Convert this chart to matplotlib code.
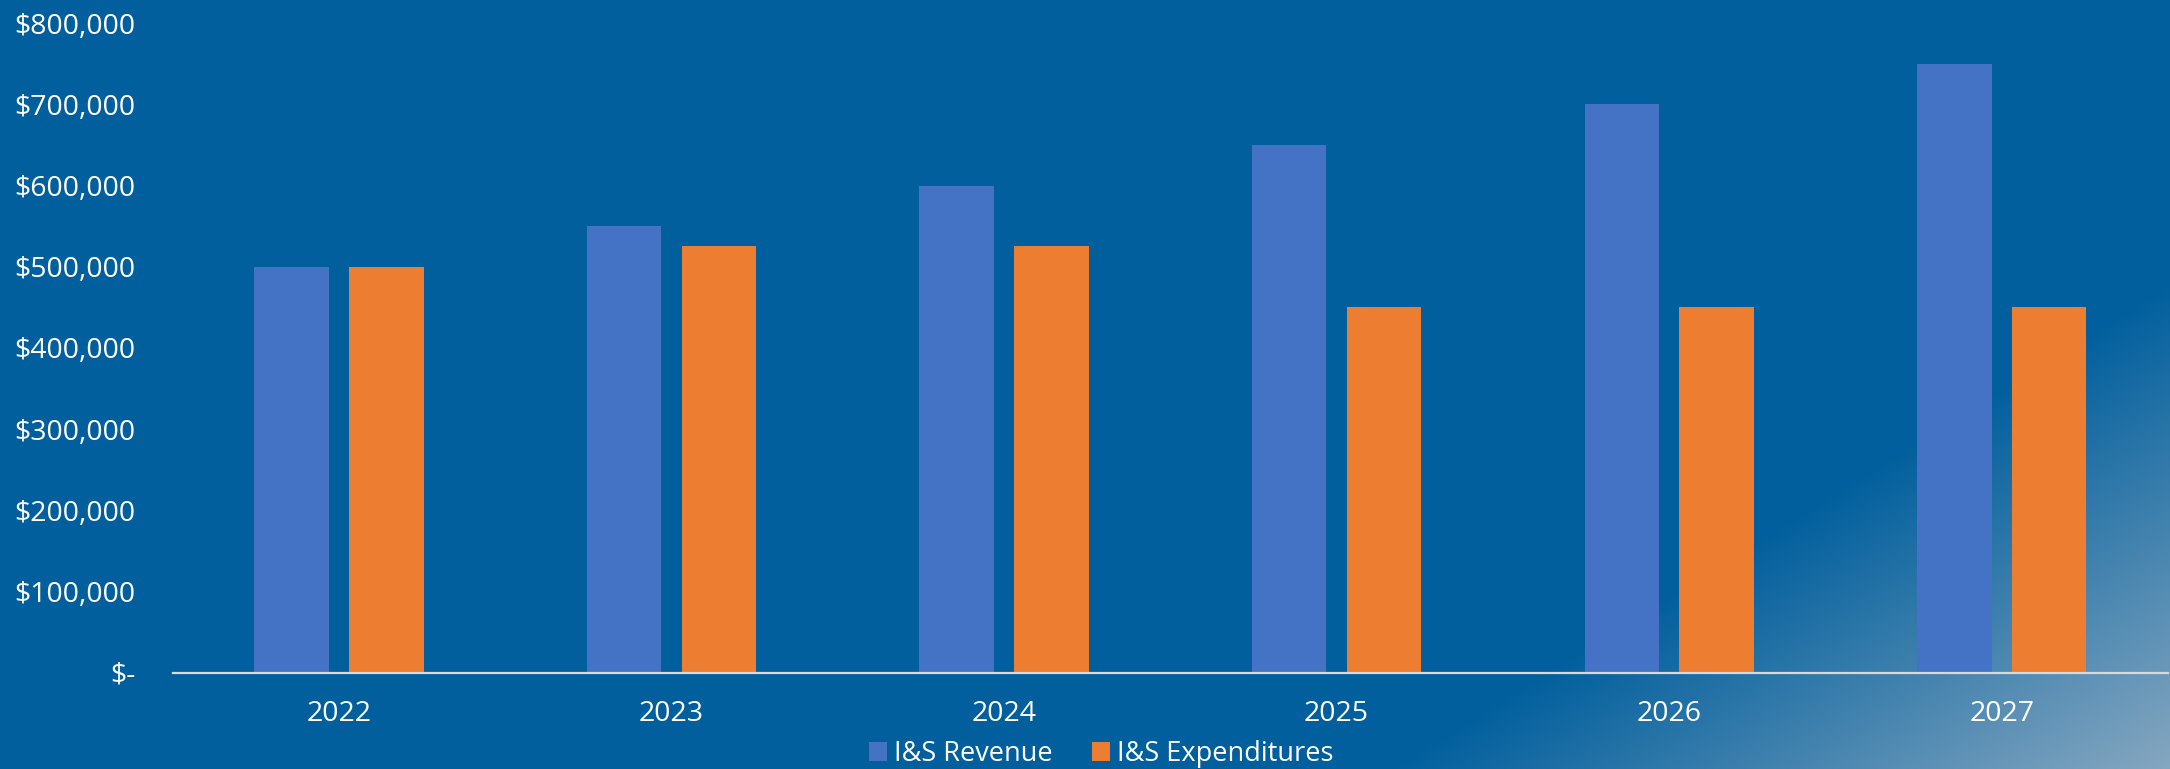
import numpy as np
import matplotlib
matplotlib.use("Agg")
import matplotlib.pyplot as plt
from matplotlib.ticker import FuncFormatter

# ---- data ----
years = ["2022", "2023", "2024", "2025", "2026", "2027"]
revenue = [500000, 550000, 600000, 650000, 700000, 750000]
expenditures = [500000, 525000, 525000, 450000, 450000, 450000]
series_names = ["I&S Revenue", "I&S Expenditures"]
y_ticks = [0, 100000, 200000, 300000, 400000, 500000, 600000, 700000, 800000]

# ---- style ----
W, H = 2170, 769
DPI = 100
bg = np.array([1, 95, 157]) / 255.0
light = np.array([134, 167, 192]) / 255.0
c_rev = "#4472C4"
c_exp = "#ED7D31"
txt = "white"
plt.rcParams['font.family'] = ['Open Sans', 'DejaVu Sans']
fs = 20.5
fs_leg = 19.5

fig = plt.figure(figsize=(W / DPI, H / DPI), dpi=DPI, facecolor=bg)

# background gradient (bottom-right corner lighter)
bgax = fig.add_axes([0, 0, 1, 1], zorder=0)
xx, yy = np.meshgrid(np.arange(W), np.arange(H))
t = np.clip((0.622 * xx + yy - 1630) / 489.0, 0, 1)
img = bg[None, None, :] * (1 - t[..., None]) + light[None, None, :] * t[..., None]
bgax.imshow(img, aspect='auto', extent=[0, W, H, 0], interpolation='bilinear')
bgax.set_axis_off()

left = 172.7 / W
right = 2168 / W
bottom = 1 - 672.5 / H
top = 1 - 23.3 / H
ax = fig.add_axes([left, bottom, right - left, top - bottom], zorder=1)
ax.set_facecolor('none')

x = np.arange(len(years))
bw = 0.224
off = 0.1425
ax.bar(x - off, revenue, width=bw, color=c_rev, label=series_names[0], zorder=2)
ax.bar(x + off, expenditures, width=bw, color=c_exp, label=series_names[1], zorder=2)

ax.set_xlim(-0.5, len(years) - 0.5)
ax.set_ylim(0, 800000)
ax.set_yticks(y_ticks)
ax.yaxis.set_major_formatter(FuncFormatter(lambda v, p: "$-" if v == 0 else f"${v:,.0f}"))
ax.set_xticks(x)
ax.set_xticklabels(years)
ax.tick_params(axis='y', length=0, pad=27, labelsize=fs, labelcolor=txt)
ax.tick_params(axis='x', length=0, pad=20, labelsize=fs, labelcolor=txt)

for s in ['top', 'right', 'left']:
    ax.spines[s].set_visible(False)
ax.spines['bottom'].set_color('#D9D9D9')
ax.spines['bottom'].set_linewidth(1.6)
ax.spines['bottom'].set_zorder(3)

leg = fig.legend(loc='center', bbox_to_anchor=(1101 / W, 1 - 754 / H),
                 ncol=2, frameon=False, fontsize=fs_leg, handlelength=0.667,
                 handleheight=0.667, handletextpad=0.25, columnspacing=1.45,
                 borderpad=0, borderaxespad=0)
for tx in leg.get_texts():
    tx.set_color(txt)

fig.savefig("out.png", dpi=DPI, facecolor=fig.get_facecolor())
